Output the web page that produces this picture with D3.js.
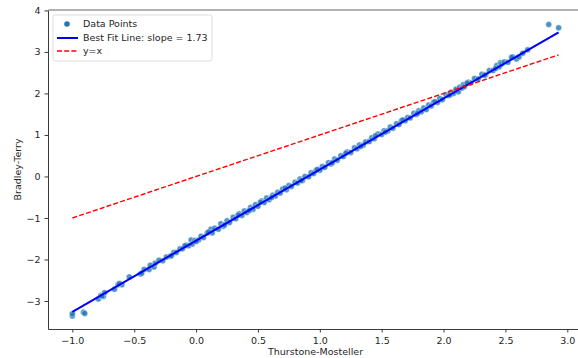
<!DOCTYPE html>
<html>
<head>
<meta charset="utf-8">
<script src="https://cdn.jsdelivr.net/npm/d3@7.9.0/dist/d3.min.js"></script>
<style>
  body { margin: 0; background: #fff; }
  text { font-family: "DejaVu Sans", sans-serif; fill: #262626; }
</style>
</head>
<body>
<div id="chart"></div>
<script>
// data
const tmScores = [-1.00, -1.00, -0.91, -0.90, -0.79, -0.77, -0.75, -0.74, -0.66, -0.63,
  -0.60, -0.54, -0.45, -0.42, -0.38, -0.37, -0.34, -0.33, -0.27, -0.24,
  -0.21, -0.18, -0.16, -0.13, -0.11, -0.08, -0.06, -0.04, -0.03, -0.01,
  0.02, 0.04, 0.06, 0.09, 0.12, 0.13, 0.15, 0.18, 0.20, 0.22,
  0.25, 0.27, 0.30, 0.32, 0.35, 0.37, 0.39, 0.41, 0.44, 0.46,
  0.48, 0.50, 0.53, 0.55, 0.57, 0.59, 0.62, 0.64, 0.66, 0.68,
  0.70, 0.73, 0.75, 0.77, 0.80, 0.82, 0.84, 0.86, 0.88, 0.91,
  0.93, 0.95, 0.97, 1.00, 1.02, 1.04, 1.07, 1.09, 1.12, 1.14,
  1.17, 1.19, 1.22, 1.25, 1.28, 1.30, 1.32, 1.35, 1.37, 1.40,
  1.42, 1.44, 1.47, 1.50, 1.52, 1.55, 1.57, 1.59, 1.62, 1.64,
  1.66, 1.69, 1.71, 1.73, 1.76, 1.78, 1.80, 1.82, 1.84, 1.86,
  1.88, 1.90, 1.92, 1.95, 1.97, 1.99, 2.02, 2.04, 2.06, 2.08,
  2.10, 2.12, 2.13, 2.15, 2.16, 2.17, 2.20, 2.22, 2.25, 2.28,
  2.31, 2.34, 2.37, 2.40, 2.43, 2.45, 2.46, 2.47, 2.49, 2.52,
  2.56, 2.59, 2.61, 2.64, 2.68, 2.85, 2.93,
  -0.76, -0.62, -0.44, -0.30, -0.20, -0.09, 0.00, 0.10, 0.23, 0.34,
  0.43, 0.52, 0.61, 0.72, 0.85, 0.98, 1.10, 1.21, 1.33, 1.45,
  1.53, 1.67, 1.79, 1.93, 2.05, 2.19, 2.33, 2.42, 2.55];
const btScores = [-3.36, -3.31, -3.27, -3.30, -2.95, -2.87, -2.89, -2.80, -2.72, -2.61,
  -2.61, -2.42, -2.35, -2.24, -2.24, -2.14, -2.18, -2.09, -2.03, -1.94,
  -1.92, -1.83, -1.83, -1.74, -1.74, -1.66, -1.67, -1.53, -1.63, -1.54,
  -1.53, -1.44, -1.47, -1.36, -1.27, -1.36, -1.25, -1.27, -1.14, -1.20,
  -1.07, -1.11, -0.98, -1.02, -0.90, -0.94, -0.83, -0.87, -0.75, -0.79,
  -0.68, -0.72, -0.59, -0.63, -0.52, -0.56, -0.45, -0.47, -0.38, -0.40,
  -0.30, -0.32, -0.22, -0.24, -0.14, -0.16, -0.06, -0.10, 0.00, -0.01,
  0.09, 0.07, 0.15, 0.15, 0.24, 0.22, 0.33, 0.30, 0.42, 0.39,
  0.50, 0.48, 0.59, 0.58, 0.69, 0.67, 0.76, 0.75, 0.83, 0.84,
  0.93, 0.91, 1.02, 1.01, 1.10, 1.10, 1.19, 1.16, 1.27, 1.25,
  1.34, 1.34, 1.42, 1.41, 1.52, 1.49, 1.58, 1.56, 1.65, 1.61,
  1.72, 1.70, 1.79, 1.78, 1.88, 1.85, 1.97, 1.95, 2.03, 2.00,
  2.10, 2.04, 2.15, 2.13, 2.21, 2.17, 2.27, 2.25, 2.36, 2.35,
  2.46, 2.45, 2.55, 2.55, 2.67, 2.64, 2.74, 2.71, 2.76, 2.75,
  2.88, 2.83, 2.88, 2.97, 3.05, 3.66, 3.58,
  -2.88, -2.58, -2.33, -2.02, -1.91, -1.67, -1.57, -1.34, -1.17, -0.93,
  -0.82, -0.62, -0.51, -0.28, -0.10, 0.17, 0.33, 0.56, 0.72, 0.98,
  1.07, 1.36, 1.52, 1.80, 1.96, 2.25, 2.44, 2.60, 2.87];
// best fit line ends and y=x ends
const fitX = [-1.00, 2.93];
const fitY = [-3.26, 3.47];
const diagX = [-1.00, 2.93];
const slopeLabel = "1.73";
const xTicks = [-1.0, -0.5, 0.0, 0.5, 1.0, 1.5, 2.0, 2.5, 3.0];
const yTicks = [-3, -2, -1, 0, 1, 2, 3, 4];

const W = 578, H = 358;
const m = {left: 48, top: 10, right: 583, bottom: 329};

const svg = d3.select("#chart").append("svg")
    .attr("width", W).attr("height", H);

const x = d3.scaleLinear().domain([-1.197, 3.127]).range([m.left, m.right]);
const y = d3.scaleLinear().domain([-3.675, 4.01]).range([m.bottom, m.top]);

const fmtX = d => d3.format(".1f")(d).replace("-", "\u2212");
const fmtY = d => String(d).replace("-", "\u2212");

// axes
const xAxis = svg.append("g")
    .attr("transform", `translate(0,${m.bottom})`)
    .call(d3.axisBottom(x).tickValues(xTicks).tickFormat(fmtX).tickSize(3.5).tickSizeOuter(0));
const yAxis = svg.append("g")
    .attr("transform", `translate(${m.left},0)`)
    .call(d3.axisLeft(y).tickValues(yTicks).tickFormat(fmtY).tickSize(3.5).tickSizeOuter(0));
[xAxis, yAxis].forEach(a => {
  a.select(".domain").attr("stroke", "#3a3a3a").attr("stroke-width", 1);
  a.selectAll(".tick line").attr("stroke", "#3a3a3a");
  a.selectAll(".tick text").style("font-size", "9.5px").attr("fill", "#262626");
});
xAxis.selectAll(".tick text").attr("dy", "0.9em");
yAxis.selectAll(".tick text").attr("dx", "-1");

// top spine
svg.append("line")
    .attr("x1", m.left).attr("x2", W).attr("y1", m.top).attr("y2", m.top)
    .attr("stroke", "#999").attr("stroke-width", 1.6);

// points
svg.append("g").selectAll("circle")
  .data(tmScores.map((d, i) => [d, btScores[i]]))
  .join("circle")
    .attr("cx", d => x(d[0]))
    .attr("cy", d => y(d[1]))
    .attr("r", 3)
    .attr("fill", "#1f77b4")
    .attr("fill-opacity", 0.8)
    .attr("stroke", "#fff")
    .attr("stroke-width", 0.4);

const line = d3.line().x(d => x(d[0])).y(d => y(d[1]));

// best fit line
svg.append("path")
    .datum(fitX.map((d, i) => [d, fitY[i]]))
    .attr("d", line)
    .attr("fill", "none")
    .attr("stroke", "#0000ff")
    .attr("stroke-width", 2);

// y = x
svg.append("path")
    .datum(diagX.map(d => [d, d]))
    .attr("d", line)
    .attr("fill", "none")
    .attr("stroke", "#ff0000")
    .attr("stroke-width", 1.4)
    .attr("stroke-dasharray", "5,2.2");

// axis titles
svg.append("text")
    .attr("x", (m.left + m.right) / 2)
    .attr("y", 355)
    .attr("text-anchor", "middle")
    .style("font-size", "9.5px")
    .text("Thurstone-Mosteller");
svg.append("text")
    .attr("transform", `translate(21,${(m.top + m.bottom) / 2}) rotate(-90)`)
    .attr("text-anchor", "middle")
    .style("font-size", "9.5px")
    .text("Bradley-Terry");

// legend
const lg = svg.append("g").attr("transform", "translate(53,15)");
lg.append("rect")
    .attr("width", 159).attr("height", 46).attr("rx", 2)
    .attr("fill", "#fff").attr("fill-opacity", 0.8)
    .attr("stroke", "#d6d6d6").attr("stroke-width", 0.8);
lg.append("circle").attr("cx", 14).attr("cy", 9).attr("r", 2.8).attr("fill", "#1f77b4");
lg.append("line").attr("x1", 4).attr("x2", 25).attr("y1", 23).attr("y2", 23)
    .attr("stroke", "#0000ff").attr("stroke-width", 2);
lg.append("line").attr("x1", 4).attr("x2", 25).attr("y1", 36).attr("y2", 36)
    .attr("stroke", "#ff0000").attr("stroke-width", 1.4).attr("stroke-dasharray", "5,2.2");
const labels = ["Data Points", `Best Fit Line: slope = ${slopeLabel}`, "y=x"];
lg.selectAll("text.lab").data(labels).join("text")
    .attr("class", "lab")
    .attr("x", 30)
    .attr("y", (d, i) => 9 + i * 13.5)
    .attr("dy", "0.35em")
    .style("font-size", "9.5px")
    .text(d => d);
</script>
</body>
</html>
